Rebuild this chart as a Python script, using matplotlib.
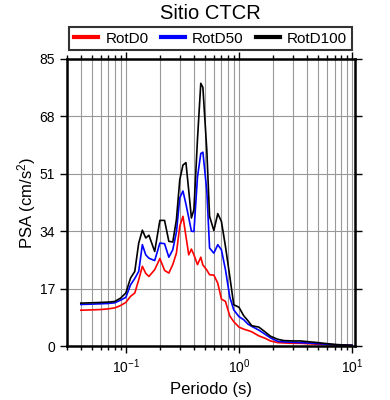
import numpy as np
import matplotlib
matplotlib.use("Agg")
from matplotlib import pyplot as plt
from matplotlib.ticker import LogLocator, FixedLocator

plt.rcParams['font.family'] = ['Liberation Sans', 'DejaVu Sans']
plt.rcParams['mathtext.default'] = 'regular'

# periodos (s)
periodo = [0.04, 0.05, 0.06, 0.07, 0.08, 0.09, 0.10, 0.11, 0.12, 0.13, 0.14, 0.15,
           0.16, 0.18, 0.20, 0.22, 0.24, 0.26, 0.28, 0.30, 0.32, 0.34, 0.36, 0.38,
           0.40, 0.43, 0.46, 0.48, 0.52, 0.55, 0.60, 0.65, 0.70, 0.76, 0.83, 0.90,
           1.0, 1.1, 1.2, 1.3, 1.5, 1.7, 1.9, 2.2, 2.5, 3.0, 3.5, 4.0, 5.0, 6.0,
           7.5, 10.0]

rotd0 = [10.6, 10.7, 10.8, 11.0, 11.3, 12.0, 12.9, 14.7, 15.7, 19.6, 23.6, 21.5,
         20.6, 22.6, 25.9, 22.4, 21.6, 24.1, 27.5, 35.5, 38.4, 32.5, 27.0, 28.7,
         27.0, 24.1, 26.3, 24.0, 22.5, 21.1, 21.0, 18.6, 13.9, 13.2, 8.9, 7.2,
         5.6, 5.0, 4.6, 4.2, 3.0, 2.3, 1.5, 1.0, 0.9, 0.8, 0.8, 0.7, 0.5, 0.4,
         0.3, 0.2]

rotd50 = [12.3, 12.4, 12.5, 12.6, 12.8, 13.6, 14.4, 18.1, 20.0, 22.1, 30.0, 27.0,
          26.0, 25.3, 30.5, 30.3, 26.3, 28.5, 33.7, 43.9, 45.9, 42.0, 38.0, 34.0,
          33.9, 50.0, 57.0, 57.4, 46.0, 29.0, 27.5, 30.0, 28.5, 22.6, 14.5, 10.7,
          8.7, 7.8, 6.5, 5.8, 4.7, 3.5, 2.4, 1.4, 1.2, 1.1, 1.0, 0.9, 0.7, 0.5,
          0.3, 0.2]

rotd100 = [12.7, 12.8, 12.9, 13.0, 13.2, 14.2, 15.7, 20.1, 22.1, 30.5, 34.3, 32.0,
           32.8, 28.0, 37.2, 37.2, 31.0, 30.8, 37.4, 49.3, 53.6, 54.3, 46.0, 37.9,
           40.4, 61.2, 77.8, 76.6, 58.0, 38.4, 34.2, 39.2, 36.9, 29.5, 20.6, 12.2,
           11.5, 9.0, 7.5, 6.0, 5.6, 4.2, 2.9, 2.0, 1.6, 1.5, 1.5, 1.3, 1.0, 0.7,
           0.4, 0.2]

yticks = [0, 17, 34, 51, 68, 85]

fig = plt.figure(figsize=(3.9, 4.0), dpi=100)
ax = fig.add_axes([0.171, 0.135, 0.739, 0.7175])

ax.plot(periodo, rotd0, color='red', lw=1.2, label='RotD0')
ax.plot(periodo, rotd50, color='blue', lw=1.2, label='RotD50')
ax.plot(periodo, rotd100, color='black', lw=1.2, label='RotD100')

ax.set_xscale('log')
ax.set_xlim(0.03, 10.6)
ax.set_ylim(0, 85)
ax.xaxis.set_major_locator(LogLocator(base=10))
ax.xaxis.set_minor_locator(LogLocator(base=10, subs=np.arange(2, 10)))
ax.yaxis.set_major_locator(FixedLocator(yticks))
ax.grid(True, which='both', axis='x', color='#999999', lw=0.8)
ax.grid(True, which='major', axis='y', color='#999999', lw=0.8)
ax.set_axisbelow(True)

ax.tick_params(which='both', direction='out', top=True, right=True,
               labeltop=False, labelright=False, labelsize=10, width=1, color='black')
ax.tick_params(which='major', length=5)
ax.tick_params(which='minor', length=3)
for s in ax.spines.values():
    s.set_linewidth(1.8)

ax.set_xlabel('Periodo (s)', fontsize=12)
ax.set_ylabel('PSA (cm/s$^2$)', fontsize=12, labelpad=1)
fig.text(0.54, 0.966, 'Sitio CTCR', ha='center', va='center', fontsize=14.5)

leg = fig.legend(loc='center', bbox_to_anchor=(0.54, 0.903), ncol=3, fontsize=11,
                 frameon=True, fancybox=False, edgecolor='black', handlelength=1.6,
                 columnspacing=0.8, handletextpad=0.45, borderpad=0.3)
leg.get_frame().set_linewidth(1.5)
for l in leg.get_lines():
    l.set_linewidth(3)

fig.savefig('out.png', dpi=100)
